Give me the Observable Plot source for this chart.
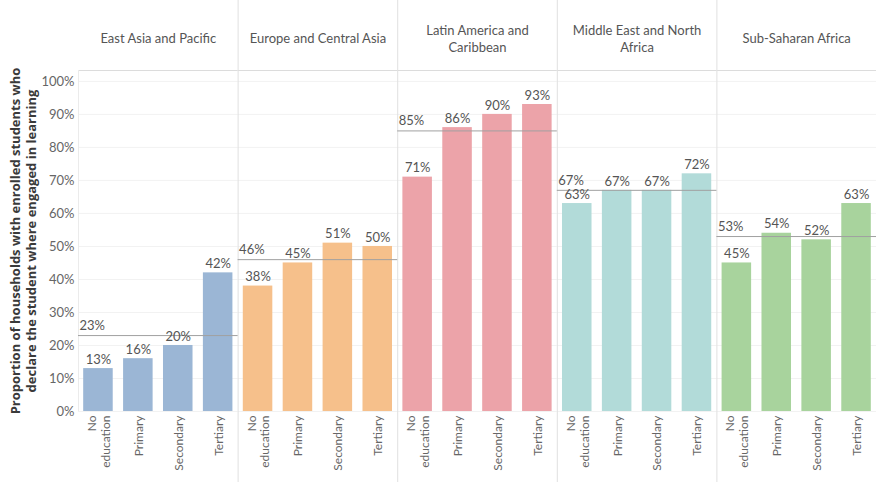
<!DOCTYPE html>
<html><head><meta charset="utf-8">
<script src="https://cdn.jsdelivr.net/npm/d3@7"></script>
<script src="https://cdn.jsdelivr.net/npm/@observablehq/plot@0.6"></script>
<style>body{margin:0;background:#fff;}</style>
</head><body><div id="chart"></div>
<script>
const regions = ["East Asia and Pacific", "Europe and Central Asia", "Latin America and Caribbean", "Middle East and North Africa", "Sub-Saharan Africa"];
const regionLabels = ["East Asia and Pacific", "Europe and Central Asia", "Latin America and\nCaribbean", "Middle East and North\nAfrica", "Sub-Saharan Africa"];
const levels = ["No education", "Primary", "Secondary", "Tertiary"];
const levelLabels = ["No\neducation", "Primary", "Secondary", "Tertiary"];
const eastAsiaPacific = [13, 16, 20, 42];
const europeCentralAsia = [38, 45, 51, 50];
const latinAmericaCaribbean = [71, 86, 90, 93];
const middleEastNorthAfrica = [63, 67, 67, 72];
const subSaharanAfrica = [45, 54, 52, 63];
const regionAverages = [23, 46, 85, 67, 53];
const yTicks = [0, 10, 20, 30, 40, 50, 60, 70, 80, 90, 100];
const colors = ["#9bb6d5", "#f6c08b", "#eca3a9", "#b2dbd9", "#a8d39d"];
const yLabel = "Proportion of households with enrolled students who\ndeclare the student where engaged in learning";

const series = [eastAsiaPacific, europeCentralAsia, latinAmericaCaribbean, middleEastNorthAfrica, subSaharanAfrica];
const data = regions.flatMap((r, i) => levels.map((l, j) => ({region: r, level: l, value: series[i][j]})));
const refs = regions.map((r, i) => ({region: r, value: regionAverages[i]}));
const labelOf = Object.fromEntries(levels.map((l, i) => [l, levelLabels[i]]));
const headerOf = Object.fromEntries(regions.map((r, i) => [r, regionLabels[i]]));

const W = 876, ML = 78;
const step = (W - ML) / regions.length / levels.length;

const chart = Plot.plot({
  width: W, height: 482,
  marginLeft: ML, marginRight: 0, marginTop: 70, marginBottom: 71,
  style: {fontFamily: "Lato, 'Open Sans', sans-serif", fontSize: "12px", color: "#666", background: "white", overflow: "visible"},
  fx: {domain: regions, padding: 0, round: false, axis: null, label: null},
  x: {domain: levels, paddingInner: 0.26, paddingOuter: 0.13, round: false, axis: null},
  y: {domain: [0, 103.3], axis: null},
  color: {domain: regions, range: colors},
  marks: [
    Plot.gridY(yTicks, {stroke: "#f2f2f2", strokeOpacity: 1}),
    Plot.ruleY([103.3], {stroke: "#dcdcdc"}),
    Plot.ruleX(regions.slice(1), {fx: d => d, x: () => levels[0], dx: -step / 2, y1: -25, y2: 130, stroke: "#e0e0e0"}),
    Plot.ruleX(regions.slice(0, 1), {fx: d => d, x: () => levels[0], dx: -step / 2, y1: 0, y2: 103.3, stroke: "#ebebeb"}),
    Plot.barY(data, {fx: "region", x: "level", y: "value", fill: "region"}),
    Plot.ruleY(refs, {fx: "region", y: "value", stroke: "#a0a0a0"}),
    Plot.text(refs, {fx: "region", y: "value", text: d => d.value + "%", frameAnchor: "left", textAnchor: "start", dx: 1, dy: -10, fill: "#555", fontSize: 13}),
    Plot.text(data, {fx: "region", x: "level", y: "value", text: d => d.value + "%", dy: -9, fill: "#555", fontSize: 13}),
    Plot.axisY(yTicks, {tickFormat: d => d + "%", tickSize: 0, tickPadding: 4, fill: "#666", fontSize: 13, label: null}),
    Plot.text([regions[0]], {fx: d => d, text: () => yLabel, frameAnchor: "left", textAnchor: "middle", dx: -56, rotate: -90, lineAnchor: "middle", lineHeight: 1.25, fontWeight: "bold", fontFamily: "'Open Sans', sans-serif", fill: "#3a3a3a", fontSize: 13}),
    Plot.axisX({tickSize: 0, tickPadding: 4, tickRotate: -90, tickFormat: d => labelOf[d], fill: "#666", fontSize: 12, lineHeight: 1.15, label: null}),
    Plot.text(regions, {fx: d => d, text: d => headerOf[d], frameAnchor: "top", dy: -32.5, lineAnchor: "middle", lineHeight: 1.3, fill: "#555", fontSize: 13})
  ]
});
document.getElementById("chart").append(chart);
</script>
</body></html>
